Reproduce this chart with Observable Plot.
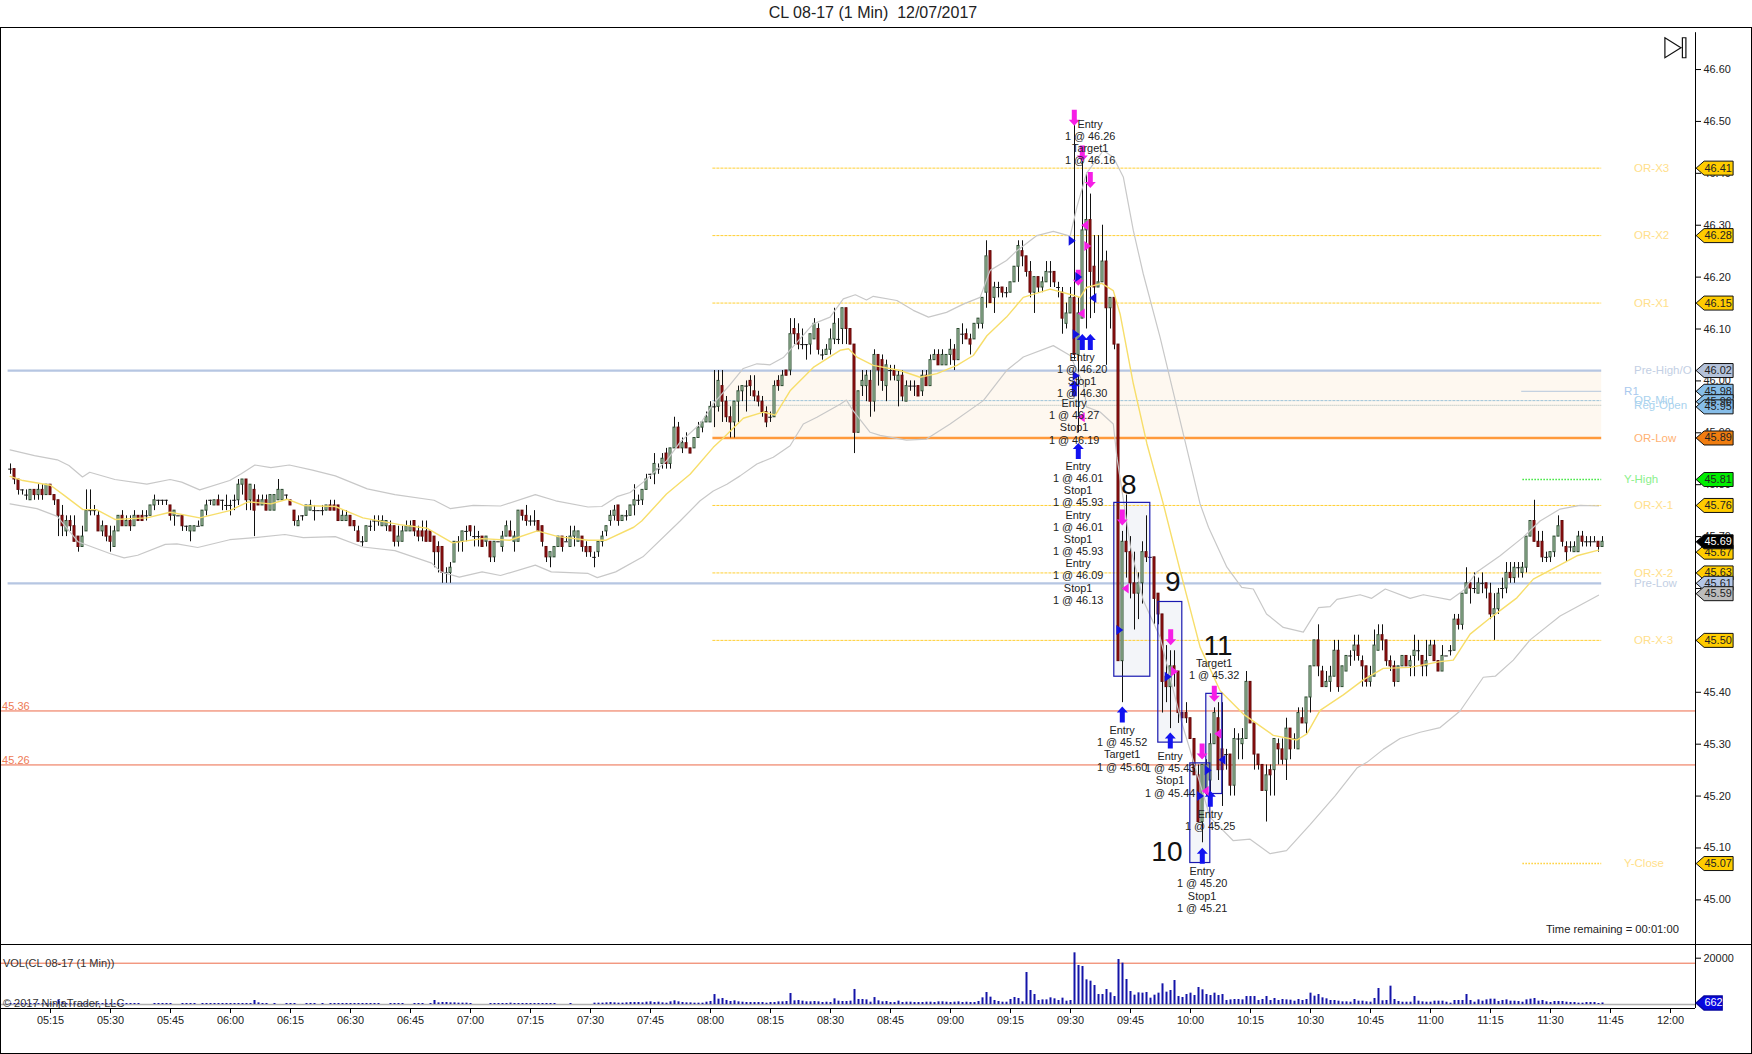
<!DOCTYPE html>
<html><head><meta charset="utf-8">
<script src="https://cdn.jsdelivr.net/npm/d3@7"></script>
<script src="https://cdn.jsdelivr.net/npm/@observablehq/plot@0.6"></script>
<style>
html,body{margin:0;padding:0;background:#fff;overflow:hidden;width:1752px;height:1054px}
svg{font-family:"Liberation Sans",Arial,sans-serif;display:block}
#title{position:absolute;left:0;top:0;width:1746px;height:27px;text-align:center;font:16px/26px "Liberation Sans",Arial,sans-serif;white-space:pre;color:#222}
#price{position:absolute;left:0;top:27px}
#volume{position:absolute;left:0;top:944px}
#frame{position:absolute;left:0;top:27px;width:1752px;height:1027px;box-sizing:border-box;border:1.5px solid #000;pointer-events:none}
</style></head><body>
<div id="title">CL 08-17 (1 Min)  12/07/2017</div>
<div id="price"></div><div id="volume"></div><div id="frame"></div>
<script>
// ---- candle data: cents above 45.00, one bar per minute from 05:05 (minute 305)
const firstMinute = 305;
const opens = [83,83,81,79,78,77,79,78,79,78, 80,78,77,74,71,73,72,70,68,71, 75,75,74,71,72,70,68,71,74,72, 73,72,74,74,74,74,76,77,77,77,
76,74,74,74,72,71,71,72,72,75, 77,76,77,77,76,76,77,77,80,81, 77,79,77,76,77,75,75,77,77,78, 77,75,72,74,74,75,75,75,75,75,
76,76,76,73,73,74,73,71,69,69, 72,73,73,72,72,72,72,69,69,71, 71,73,71,71,71,71,70,68,68,63, 63,65,69,69,71,72,70,70,70,69,
69,66,69,68,70,71,69,69,75,74, 73,73,73,72,68,66,66,68,70,69, 68,70,69,70,68,68,66,67,69,71, 73,74,76,73,74,74,76,77,77,79,
82,82,83,84,86,84,87,91,87,88, 87,87,89,91,92,92,95,95,99,96, 93,92,96,98,99,100,98,97,96,94, 93,93,100,99,102,102,110,109,107,107,
107,108,110,105,105,106,108,108,110,114, 110,107,90,99,99,100,96,105,104,99, 102,102,100,101,96,99,99,99,98,101, 99,104,105,103,103,105,106,104,109,109,
108,108,111,111,117,125,116,118,118,117, 117,119,122,125,124,121,117,120,118,119, 121,121,118,117,111,113,116,105,112,129, 131,122,118,119,123,114,116,107,46,69,
67,61,59,61,67,66,66,59,55,43, 41,45,44,36,36,35,31,24,15,21, 23,30,35,29,28,28,22,31,30,31, 42,34,28,26,21,25,25,30,29,27,
33,31,29,35,34,39,45,50,44,41, 42,43,48,41,44,47,48,49,46,45, 42,43,48,51,50,46,45,42,45,47, 45,47,48,47,45,47,49,46,44,47,
48,48,54,53,59,61,60,59,61,61, 59,55,56,60,60,63,62,64,63,64, 70,73,69,69,66,66,67,70,73,68, 68,67,67,70,69,69,69,69,68];
const highs = [84,83,81,79,79,79,79,80,80,80, 80,78,77,76,74,74,74,70,72,79, 79,76,75,73,72,72,72,74,75,74, 74,75,74,75,75,76,78,77,77,77,
76,75,74,74,72,72,72,73,75,77, 77,77,78,77,78,77,78,81,81,81, 80,80,78,78,78,78,78,81,79,78, 77,75,74,74,76,77,76,75,76,76,
77,77,76,75,75,74,73,72,70,72, 73,74,74,74,73,73,72,72,72,73, 73,73,72,73,73,71,70,69,68,64, 65,69,70,71,72,72,72,71,70,70,
69,69,69,71,73,73,71,75,75,76, 74,75,73,72,68,67,68,70,70,70, 72,72,71,70,69,68,67,69,71,72, 75,76,76,74,75,76,80,78,79,82,
82,86,84,86,87,87,93,92,89,90, 87,89,92,92,94,96,102,102,102,97, 95,96,99,99,100,101,101,98,97,95, 94,100,101,102,102,112,112,111,110,107,
109,112,111,106,107,110,114,112,114,114, 110,107,98,102,102,102,106,105,105,104, 103,103,102,102,100,100,100,99,102,102, 105,106,106,106,105,108,107,110,111,110,
109,111,112,116,127,125,119,119,118,118, 119,122,127,127,124,123,120,120,120,123, 123,121,119,118,115,118,150,116,143,140, 136,128,128,130,125,116,116,107,71,78,
70,67,63,69,74,66,66,59,55,49, 48,48,44,36,38,35,31,26,26,27, 32,37,38,38,29,28,33,32,33,44, 42,34,28,26,26,26,31,31,31,35,
33,32,37,37,39,45,50,53,45,44, 45,50,50,45,47,48,51,51,47,45, 45,52,53,53,50,47,46,45,47,47, 47,51,50,47,50,50,50,46,49,47,
49,55,55,59,64,61,63,62,63,61, 61,59,60,62,65,65,65,65,65,70, 73,77,71,71,67,67,70,74,73,69, 69,69,71,71,70,70,70,69,70];
const lows = [82,80,78,78,77,77,77,77,77,78, 78,76,70,70,70,71,69,67,68,71, 74,74,71,70,69,67,68,71,72,72, 71,72,73,73,73,74,75,76,76,76,
73,72,74,71,71,69,71,72,72,74, 76,76,76,75,75,74,75,76,78,75, 75,70,76,76,75,75,75,77,77,77, 76,72,72,73,74,75,73,75,74,75,
75,75,73,73,73,72,71,69,68,69, 71,71,72,72,71,71,68,68,69,71, 71,70,69,69,69,69,64,63,61,61, 61,65,67,67,69,70,68,68,68,68,
65,65,69,67,70,70,67,69,73,72, 72,72,71,68,65,64,66,68,67,69, 68,68,69,67,66,66,64,66,68,70, 72,73,72,73,73,74,74,76,76,79,
81,80,82,83,83,83,87,87,86,87, 86,87,89,90,92,92,91,94,92,92, 89,89,92,96,94,97,96,95,93,91, 92,93,98,99,101,101,107,106,106,104,
105,108,105,104,105,105,107,107,107,107, 107,86,90,97,96,93,94,99,98,96, 100,100,95,96,96,98,97,97,97,99, 99,104,103,103,103,103,102,104,107,108,
105,108,110,110,114,115,113,116,116,116, 117,119,119,122,120,116,113,117,117,119, 118,118,116,109,110,113,104,90,112,110, 112,113,118,119,103,110,106,46,38,62,
58,52,54,57,65,66,53,53,36,38, 33,41,34,35,34,31,24,15,11,20, 18,30,23,18,25,20,20,27,27,31, 34,25,25,21,15,20,20,26,26,23,
27,29,29,34,32,36,45,43,41,41, 40,43,40,41,44,45,46,46,41,41, 41,43,48,48,45,44,41,42,45,45, 43,43,46,43,43,47,46,44,44,47,
47,48,52,52,59,57,59,59,59,58, 54,50,55,58,59,61,61,62,62,63, 70,69,68,65,65,65,66,70,68,65, 67,67,67,68,68,68,69,67,68];
const closes = [83,81,79,79,78,79,78,79,78,80, 78,77,74,72,73,72,69,68,70,75, 75,75,71,72,70,69,71,74,72,73, 72,74,73,73,74,76,77,77,77,77,
74,75,74,72,72,72,72,72,75,76, 77,77,76,77,76,76,77,80,81,77, 80,75,76,77,75,78,78,79,79,78, 76,73,73,74,76,76,75,75,75,76,
75,75,73,74,74,72,72,69,69,72, 72,73,73,73,73,71,69,70,71,72, 72,71,70,70,69,69,67,67,63,63, 64,69,69,71,71,71,70,70,68,70,
66,69,69,70,72,70,70,75,74,73, 73,73,71,69,66,67,68,70,68,69, 70,71,71,68,67,67,66,69,70,72, 74,75,73,74,74,76,77,77,79,81,
82,84,83,85,84,87,91,87,88,87, 86,89,91,92,93,95,95,100,96,93, 92,96,98,99,99,99,97,96,94,92, 93,99,99,101,101,109,109,107,107,107,
109,111,106,105,106,108,111,108,114,110, 107,90,98,100,101,96,105,102,100,103, 102,101,101,97,99,99,99,97,101,99, 104,105,103,105,105,106,104,110,109,108,
107,111,112,116,124,115,118,118,117,117, 119,122,126,124,121,117,120,118,119,121, 121,119,118,112,113,116,105,113,129,131, 121,118,119,123,114,116,107,46,69,67,
61,59,61,67,66,66,58,55,42,41, 45,44,36,35,35,31,24,15,26,26, 30,36,25,25,28,22,31,31,31,42, 34,28,26,21,24,24,31,29,27,33,
29,31,36,34,39,45,50,45,41,42, 43,48,41,45,47,47,49,47,45,42, 43,49,51,50,46,45,42,45,47,45, 46,48,48,45,46,49,46,44,47,47,
48,54,53,59,61,60,60,61,61,60, 55,56,59,60,63,62,64,64,64,70, 73,69,68,66,66,67,70,72,69,67, 68,68,70,69,69,69,69,68,69];
const volumes = [430,430,430,430,430,430,430,430,430,430, 430,430,2000,860,430,430,430,430,430,430, 430,430,430,430,430,430,430,430,430,430, 430,430,430,0,0,0,430,430,430,430,
430,0,0,430,430,430,430,0,430,430, 430,430,430,430,430,430,430,430,430,430, 430,1730,720,430,430,0,430,0,0,430, 430,430,0,0,430,430,430,0,430,0,
430,430,430,430,430,430,430,430,430,430, 430,430,430,0,0,430,430,430,430,0, 0,430,430,430,0,430,1730,720,860,860, 720,720,580,580,580,430,0,0,0,0,
430,430,430,430,430,580,430,430,430,430, 430,430,430,430,430,430,430,0,0,0, 430,0,0,0,0,0,580,580,580,720, 860,720,580,580,720,860,860,860,720,1000,
1150,860,1000,720,580,1150,1580,1150,860,720, 720,580,580,580,1000,1300,4300,2300,2600,1730, 1300,1580,1150,1000,860,860,860,860,860,580, 860,860,1150,1150,1300,4750,1580,1730,1440,1150,
1150,1300,1150,860,1000,860,2450,1440,1300,1300, 1440,6500,2160,2160,2000,1000,3000,1580,1150,1300, 860,860,1440,860,1000,1000,860,860,860,1000, 1000,860,1150,1150,1000,860,1000,1150,860,1000,
860,860,1300,2880,5180,3170,1730,1300,1000,1000, 2160,3020,2590,1150,13820,6050,4320,1730,2000,2000, 2880,2450,1730,2740,1440,1730,22320,16850,16420,10660, 10080,8210,4320,4320,6480,5040,3460,19440,17860,10800,
5620,4030,5040,4900,5180,2740,4030,4900,8930,5330, 6050,10370,3460,3020,4320,4900,3890,7340,6340,4320, 3890,4900,3890,4320,1730,2000,2160,2160,2000,3460, 3460,3460,1730,2160,3460,1730,2590,1730,2160,2000,
1870,1440,2160,1730,2160,4900,3600,4320,2880,2450, 1730,1730,1440,1150,1150,1000,2160,1440,1440,1150, 1000,2590,6910,1580,1730,7920,2160,1300,1000,1000, 1000,3460,1440,1150,1000,1000,1440,1440,1440,1000,
580,1730,1730,1730,4320,1730,1000,2000,1440,2000, 2300,2300,1300,1730,2000,1440,1440,1300,1000,2000, 2300,2590,1440,1730,1150,860,1300,1300,1300,1000, 860,860,580,580,860,860,860,430,662];

// ---- indicator curves: minute, cents above 45.00
const upperMinutes = [304.9,311,316.7,319.6,323,324.8,331.1,339.1,344.9,347.8,352.3,359.8,362.7,366.1,370.1,374.7,380.5,386.2,394.2,401.1,410.9,414.9,420.7,427.5,436.2,441.3,449.4,452.8,456.6,459.9,463.2,469,472.4,477.4,480.7,484.9,488.2,491.6,494.9,498.2,505.7,509.9,513.2,516.2,519,520.7,526.6,530.7,534.5,539,543.2,547.4,549.9,554,556.6,561.6,565.7,569.9,571.6,574,578.2,580.7,583.2,585.7,588.2,592.4,598.6,602.4,604.5,609.1,612.8,615.7,619,623.2,628.2,632,634.9,636.6,642.4,645.3,648.7,654.9,658.2,664.9,668.2,671.6,677.4,683.2,687.4,692.4,697.4,702];
const upperValues = [86.7,85.6,84.8,83.7,81.5,82.4,81,80.1,81,80.5,79,80.8,82.1,83.8,83.3,83.8,82.8,81.7,79.2,78.1,77,75.4,76,75.9,78.1,76.9,75.7,75.8,77.7,78.5,80.5,84.6,88.2,91.7,95.6,99.3,102.4,103.3,103.1,104.5,111,112.3,115.8,116.6,115.6,116.3,115.5,113.6,112.3,113.2,114.8,116.1,121.3,123.2,125.1,128,128.8,127.9,133.5,140,144.4,143.1,139.3,129,120.6,108.4,88.5,76.3,71.8,64.1,60.2,59.9,55.1,52.5,51.6,56.3,56.5,57.9,58.8,58.1,59.9,58.1,58.8,57.8,59.6,63.2,66.3,69.9,73,75.3,76,75.9];
const lowerMinutes = [304.9,311.6,316.7,321.9,330,333.4,336.8,343.7,346.6,351.8,359.8,366.1,373.6,378.2,386.2,393.1,401.1,410.3,412.6,417.2,422.9,427.5,436.2,440.2,449.4,451.7,456.3,463.1,472.4,477.4,480.7,484.1,487.4,491.6,495.7,499.9,503.2,506.6,512.4,514,515.6,519.9,522.4,529,534,539.9,548.2,554,558.2,565.7,569.9,573.2,574,577.4,580.7,581.6,585,588.2,592.4,597.4,600.7,604.9,610.7,614.9,619.9,624,629.9,636.2,641.6,644.1,648.2,652.4,657.4,662.4,667.4,673.2,676.2,680.7,684.9,692.4,702];
const lowerValues = [76.3,75.4,73.9,69,66.7,65.9,66.4,68.5,68.6,67.9,69.4,69.8,70.4,69.8,70,68,67.3,64.9,63.2,62.2,63.2,62.5,64.5,63.2,62.9,62.1,63.2,66.1,73,76.9,78.8,80.1,81.7,84,85.3,87.5,91.7,93,95.5,96.3,94.3,90.1,89.5,88.6,88.8,91.7,96.2,102,104.6,106.8,104.9,99.5,95,94,91.7,85.3,68,57.7,50.6,35.2,26.8,15.9,11.4,11.7,8.9,9.5,14.5,20.1,25.4,26.5,29,31.1,32.3,33.2,36.4,42.9,43.1,46.2,50.1,54.7,58.7];
const averageMinutes = [304.9,308.1,315,318.5,323.1,326.5,331.1,339.1,344.9,352.3,359.8,364.4,370.1,374.2,378.2,386.2,393.1,402.3,409.2,415.5,422.9,429.8,436.7,441.9,449.4,453.9,460.8,462.8,469,474.9,480.7,483.2,488.2,493.2,496.2,499.9,505.7,512.4,514.5,516.6,520.7,527.4,532.4,536.6,541.6,545.7,549.1,554,558.2,564.9,570.7,572.4,574,577.8,580.7,582.4,585.7,589.1,593.2,597.4,602.4,607.4,613.2,620.7,626.6,629.1,632.4,638.2,643.2,648.2,654.9,662.4,665.7,669.9,674.9,681.6,685.7,691.6,696.6,702];
const averageValues = [81.6,80.8,79.9,77.9,75.2,75.2,73.3,73.6,74.7,73.6,75,76.7,76.3,77.2,76,75.8,73.6,72.3,71.6,68.8,69.6,69.3,71.1,70,69.3,69.3,71.8,73,78.2,82,87.2,89,92.8,94,93.4,98.1,102.6,105.9,106.2,104.6,103,102,100.7,101.4,103,104.9,108.7,112.3,116.1,117.7,116.5,116.1,118,118.8,117.4,112.9,99.5,87.9,76.3,63.5,48.7,40.3,35.8,31.7,30.8,32,36.5,39.5,42.4,44.6,44.8,45.9,46.2,51.2,54.3,58.2,61.8,64.2,66.3,67.4];

// ---- price levels
const goldLevels = [46.41,46.28,46.15,45.76,45.63,45.50];
const goldNames = ["OR-X3","OR-X2","OR-X1","OR-X-1","OR-X-2","OR-X-3"];
const sessionHighLow = [46.02,45.61];
const sessionNames = ["Pre-High/O","Pre-Low"];
const orMid = 45.962, regOpen = 45.953, orLow = 45.89, r1 = 45.98, yHigh = 45.81, yClose = 45.07;
const pivots = [45.364,45.26];
const tagValues = [46.41,46.28,46.15,46.02,45.98,45.96,45.95,45.89,45.81,45.76,45.67,45.69,45.63,45.61,45.59,45.50,45.07];
const tagFills = ["#ffcc00","#ffcc00","#ffcc00","#b4c2da","#86bde8","#86bde8","#86bde8","#f07d10","#00ee00","#ffcc00","#ffcc00","#000000","#ffcc00","#b4c6e6","#bcbcbc","#ffcc00","#ffcc00"];
const priceTicks = [45.0,45.1,45.2,45.3,45.4,45.5,45.6,45.7,45.8,45.9,46.0,46.1,46.2,46.3,46.4,46.5,46.6];
const timeTicks = [315,330,345,360,375,390,405,420,435,450,465,480,495,510,525,540,555,570,585,600,615,630,645,660,675,690,705,720];

// ---- executions: minute, price
const downMinutes=[570.95,572.95,574.95,571.95,582.95,595.05,605.95,602.9], downPrices=[46.507,46.438,46.387,46.199,45.737,45.506,45.397,45.286];
const upMinutes=[572.95,574.95,570.95,571.95,582.95,594.95,602.95,604.95], upPrices=[46.075,46.075,45.986,45.865,45.357,45.307,45.085,45.195];
const buyFillMinutes=[570.3,571.3,571.3,571.95,582.2,594.3,602.4,604.3], buyFillPrices=[46.27,46.09,46.01,46.20,45.52,45.43,45.20,45.25];
const buyExitMinutes=[575.7,608], buyExitPrices=[46.16,45.27];
const sellLeftMinutes=[573.7,572.8,572.8,583.8,606.95,603.8], sellLeftPrices=[46.30,46.13,45.93,45.60,45.32,45.21];
const sellRightMinutes=[574.2,595.9], sellRightPrices=[46.26,45.44];
const noteMinutes=[574.9,572.9,570.9,571.9,582.9,594.9,605.9,604.9,602.9];
const notePrices=[46.504,46.055,45.966,45.845,45.336,45.286,45.465,45.174,45.064];
const noteTexts=["Entry\n1 @ 46.26\nTarget1\n1 @ 46.16","Entry\n1 @ 46.20\nStop1\n1 @ 46.30","Entry\n1 @ 46.27\nStop1\n1 @ 46.19",
"Entry\n1 @ 46.01\nStop1\n1 @ 45.93\nEntry\n1 @ 46.01\nStop1\n1 @ 45.93\nEntry\n1 @ 46.09\nStop1\n1 @ 46.13",
"Entry\n1 @ 45.52\nTarget1\n1 @ 45.60","Entry\n1 @ 45.43\nStop1\n1 @ 45.44","Target1\n1 @ 45.32","Entry\n1 @ 45.25","Entry\n1 @ 45.20\nStop1\n1 @ 45.21"];
const tradeNumbers=["8","9","10","11"], numberMinutes=[584.6,595.6,594.1,606.9], numberPrices=[45.80,45.613,45.093,45.49];
const boxLeft=[580.95,591.95,599.95,603.95], boxRight=[589.95,597.95,604.95,607.95], boxTop=[45.765,45.574,45.263,45.397], boxBottom=[45.43,45.303,45.071,45.204];

// ---- tables
const toPrice = c => 45 + c/100;
const bars = opens.map((o,i)=>({m:firstMinute+i,o:toPrice(o),h:toPrice(highs[i]),l:toPrice(lows[i]),c:toPrice(closes[i]),v:volumes[i]}));
const bodies = bars.filter(b=>b.o!==b.c), dojis = bars.filter(b=>b.o===b.c);
const curve = (ms,vs)=>ms.map((m,i)=>({m,p:toPrice(vs[i])}));
const pts = (ms,ps)=>ms.map((m,i)=>({m,p:ps[i]}));
const levelRange = [480.6,702.8], allRange=[302.5,726.25], axisMinute=726.25;
const tagsAt = 726.4, tagTextAt = 728.5;

// ---- custom symbols
const sym = f=>({draw:f});
const upArrow = sym(c=>{c.moveTo(0,-8);c.lineTo(5.5,-2);c.lineTo(2.5,-2);c.lineTo(2.5,8);c.lineTo(-2.5,8);c.lineTo(-2.5,-2);c.lineTo(-5.5,-2);c.closePath();});
const downArrow = sym(c=>{c.moveTo(0,8);c.lineTo(5.5,2);c.lineTo(2.5,2);c.lineTo(2.5,-8);c.lineTo(-2.5,-8);c.lineTo(-2.5,2);c.lineTo(-5.5,2);c.closePath();});
const triRight = sym(c=>{c.moveTo(4,0);c.lineTo(-3,-5);c.lineTo(-3,5);c.closePath();});
const triLeft = sym(c=>{c.moveTo(-4,0);c.lineTo(3,-5);c.lineTo(3,5);c.closePath();});
const tag = w=>sym(c=>{c.moveTo(0,0);c.lineTo(8,-7);c.lineTo(w,-7);c.lineTo(w,7);c.lineTo(8,7);c.closePath();});
const endIcon = sym(c=>{c.moveTo(-10,-10);c.lineTo(6,0);c.lineTo(-10,10);c.closePath();c.moveTo(7.5,-10);c.lineTo(11,-10);c.lineTo(11,10);c.lineTo(7.5,10);c.closePath();});

const xScale = {domain:allRange, range:[0,1695]};
const gold="#ffcf33", goldText="#ffe08a", numSize=10.9;

const price = Plot.plot({
  width:1752,height:917,marginTop:0,marginBottom:0,marginLeft:0,marginRight:57,
  x:{...xScale,axis:null},
  y:{domain:[44.914,46.681],range:[917,0],axis:null},
  marks:[
    Plot.rect([0],{x1:levelRange[0],x2:levelRange[1],y1:orLow,y2:46.02,fill:"#fef8f0"}),
    Plot.rect(boxLeft.map((l,i)=>i),{x1:i=>boxLeft[i],x2:i=>boxRight[i],y1:i=>boxBottom[i],y2:i=>boxTop[i],fill:"#f3f5f9"}),
    Plot.ruleY(goldLevels,{x1:levelRange[0],x2:levelRange[1],stroke:gold,strokeWidth:1,strokeDasharray:"3,1"}),
    Plot.ruleY(sessionHighLow,{x1:304.4,x2:levelRange[1],stroke:"#b6c6e2",strokeWidth:2.2}),
    Plot.ruleY([orMid],{x1:levelRange[0],x2:levelRange[1],stroke:"#9cc3d8",strokeDasharray:"3,1"}),
    Plot.ruleY([regOpen],{x1:levelRange[0],x2:levelRange[1],stroke:"#a6b8b8",strokeDasharray:"1,1"}),
    Plot.ruleY([r1],{x1:682.8,x2:levelRange[1],stroke:"#b4c6dc"}),
    Plot.ruleY([orLow],{x1:levelRange[0],x2:levelRange[1],stroke:"#ff9a3c",strokeWidth:2.4}),
    Plot.ruleY([yHigh],{x1:683.1,x2:levelRange[1],stroke:"#39e639",strokeWidth:1.6,strokeDasharray:"1.5,1.5"}),
    Plot.ruleY([yClose],{x1:683.1,x2:levelRange[1],stroke:gold,strokeWidth:1.6,strokeDasharray:"1.5,1.5"}),
    Plot.ruleY(pivots,{x1:allRange[0],x2:allRange[1],stroke:"#ec6a48",strokeWidth:1}),
    Plot.ruleX(bars,{x:"m",y1:"l",y2:"h",stroke:"#111",strokeWidth:1}),
    Plot.rect(bodies,{x1:d=>d.m-.25,x2:d=>d.m+.25,y1:"o",y2:"c",fill:d=>d.c>d.o?"#c2e4c2":"#a01010",stroke:d=>d.c>d.o?"#2c4a30":"#5e0808",strokeWidth:1}),
    Plot.ruleY(dojis,{y:"o",x1:d=>d.m-.45,x2:d=>d.m+.45,stroke:"#111",strokeWidth:1}),
    Plot.line(curve(upperMinutes,upperValues),{x:"m",y:"p",stroke:"#c8c8c8",strokeWidth:1.2}),
    Plot.line(curve(lowerMinutes,lowerValues),{x:"m",y:"p",stroke:"#c8c8c8",strokeWidth:1.2}),
    Plot.line(curve(averageMinutes,averageValues),{x:"m",y:"p",stroke:"#f7de6a",strokeWidth:1.4}),
    Plot.rect(boxLeft.map((l,i)=>i),{x1:i=>boxLeft[i],x2:i=>boxRight[i],y1:i=>boxBottom[i],y2:i=>boxTop[i],fill:"none",stroke:"#1818b0",strokeWidth:1.2}),
    Plot.dot(pts(downMinutes,downPrices),{x:"m",y:"p",symbol:downArrow,fill:"#f61ee6",stroke:"none"}),
    Plot.dot(pts(upMinutes,upPrices),{x:"m",y:"p",symbol:upArrow,fill:"#1212f0",stroke:"none"}),
    Plot.dot(pts(buyFillMinutes,buyFillPrices),{x:"m",y:"p",symbol:triRight,fill:"#1212e0",stroke:"none"}),
    Plot.dot(pts(buyExitMinutes,buyExitPrices),{x:"m",y:"p",symbol:triLeft,fill:"#1212e0",stroke:"none"}),
    Plot.dot(pts(sellLeftMinutes,sellLeftPrices),{x:"m",y:"p",symbol:triLeft,fill:"#f61ee6",stroke:"none"}),
    Plot.dot(pts(sellRightMinutes,sellRightPrices),{x:"m",y:"p",symbol:triRight,fill:"#f61ee6",stroke:"none"}),
    Plot.text(noteTexts,{x:(d,i)=>noteMinutes[i],y:(d,i)=>notePrices[i],text:d=>d,fontSize:numSize,lineHeight:1.115,lineAnchor:"top",fill:"#222"}),
    Plot.text(tradeNumbers,{x:(d,i)=>numberMinutes[i],y:(d,i)=>numberPrices[i],text:d=>d,fontSize:28,fill:"#111"}),
    Plot.text(goldNames,{x:710.9,y:(d,i)=>goldLevels[i],text:d=>d,textAnchor:"start",fontSize:11.5,fill:goldText}),
    Plot.text(sessionNames,{x:710.9,y:(d,i)=>sessionHighLow[i],text:d=>d,textAnchor:"start",fontSize:11.5,fill:"#c3cfe4"}),
    Plot.text(["OR-Mid"],{x:710.9,y:orMid,text:d=>d,textAnchor:"start",fontSize:11.5,fill:"#a9d2ee"}),
    Plot.text(["Reg-Open"],{x:710.9,y:regOpen,text:d=>d,textAnchor:"start",fontSize:11.5,fill:"#a9d2ee"}),
    Plot.text(["R1"],{x:708.4,y:r1,text:d=>d,textAnchor:"start",fontSize:11.5,fill:"#a9c9ee"}),
    Plot.text(["OR-Low"],{x:710.9,y:orLow,text:d=>d,textAnchor:"start",fontSize:11.5,fill:"#ffb273"}),
    Plot.text(["Y-High"],{x:708.4,y:yHigh,text:d=>d,textAnchor:"start",fontSize:11.5,fill:"#8cf08c"}),
    Plot.text(["Y-Close"],{x:708.4,y:yClose,text:d=>d,textAnchor:"start",fontSize:11.5,fill:goldText}),
    Plot.text(pivots,{x:302.9,y:d=>d+.009,text:d=>d.toFixed(2),textAnchor:"start",fontSize:11,fill:"#ee7a55"}),
    Plot.text(["Time remaining = 00:01:00"],{x:722.1,y:44.943,text:d=>d,textAnchor:"end",fontSize:11.2,fill:"#222"}),
    Plot.dot([0],{x:721.1,y:46.642,symbol:endIcon,fill:"none",stroke:"#111",strokeWidth:1.2}),
    Plot.ruleX([axisMinute],{y1:46.671,y2:44.914,stroke:"#000",strokeWidth:1}),
    Plot.axisY({anchor:"right",ticks:priceTicks,tickFormat:d=>d.toFixed(2),tickSize:5,tickPadding:3,label:null,fontSize:numSize,fill:"#222"}),
    Plot.dot(tagValues,{x:tagsAt,y:d=>d,symbol:tag(37),fill:(d,i)=>tagFills[i],stroke:"#111",strokeWidth:1}),
    Plot.text(tagValues,{x:tagTextAt,y:d=>d,text:d=>d.toFixed(2),textAnchor:"start",fontSize:numSize,fill:(d,i)=>tagFills[i]==="#000000"?"#fff":"#222"})
  ]
});
document.getElementById("price").appendChild(price);

const volScale = {domain:[0,20000],range:[60,13.7]};
const volTop = 25918, volBottom = -1728, volThreshold = 17840;
const volume = Plot.plot({
  width:1752,height:110,marginTop:0,marginBottom:46,marginLeft:0,marginRight:57,
  x:{...xScale,axis:null},
  y:{...volScale,axis:null},
  marks:[
    Plot.ruleY([0],{x1:allRange[0],x2:allRange[1],stroke:"#b0b0b0",strokeWidth:1.4}),
    Plot.ruleY([volThreshold],{x1:allRange[0],x2:allRange[1],stroke:"#ec6a48",strokeWidth:1}),
    Plot.ruleX(bars.filter(b=>b.v>0),{x:"m",y1:0,y2:"v",stroke:"#1414a8",strokeWidth:2}),
    Plot.text(["VOL(CL 08-17 (1 Min))"],{x:303.1,y:volThreshold,text:d=>d,textAnchor:"start",fontSize:11,fill:"#333"}),
    Plot.text(["© 2017 NinjaTrader, LLC"],{x:303.1,y:600,text:d=>d,textAnchor:"start",fontSize:11,fill:"#333"}),
    Plot.ruleY([volTop],{x1:allRange[0],x2:740.4,stroke:"#000",strokeWidth:1.2}),
    Plot.ruleY([volBottom],{x1:allRange[0],x2:allRange[1],stroke:"#000",strokeWidth:1.2}),
    Plot.ruleX([axisMinute],{y1:volTop,y2:volBottom,stroke:"#000",strokeWidth:1}),
    Plot.axisY({anchor:"right",ticks:[20000],tickFormat:d=>String(d),tickSize:5,tickPadding:3,label:null,fontSize:numSize,fill:"#222"}),
    Plot.axisX({anchor:"bottom",ticks:timeTicks,tickFormat:m=>String(Math.floor(m/60)).padStart(2,"0")+":"+String(m%60).padStart(2,"0"),tickSize:5,tickPadding:3,label:null,fontSize:numSize,fill:"#222"}),
    Plot.dot([662],{x:tagsAt,y:d=>d,symbol:tag(26),fill:"#0808e0",stroke:"#0808a0"}),
    Plot.text([662],{x:tagTextAt,y:d=>d,text:d=>String(d),textAnchor:"start",fontSize:numSize,fill:"#fff"})
  ]
});
document.getElementById("volume").appendChild(volume);
</script>
</body></html>
